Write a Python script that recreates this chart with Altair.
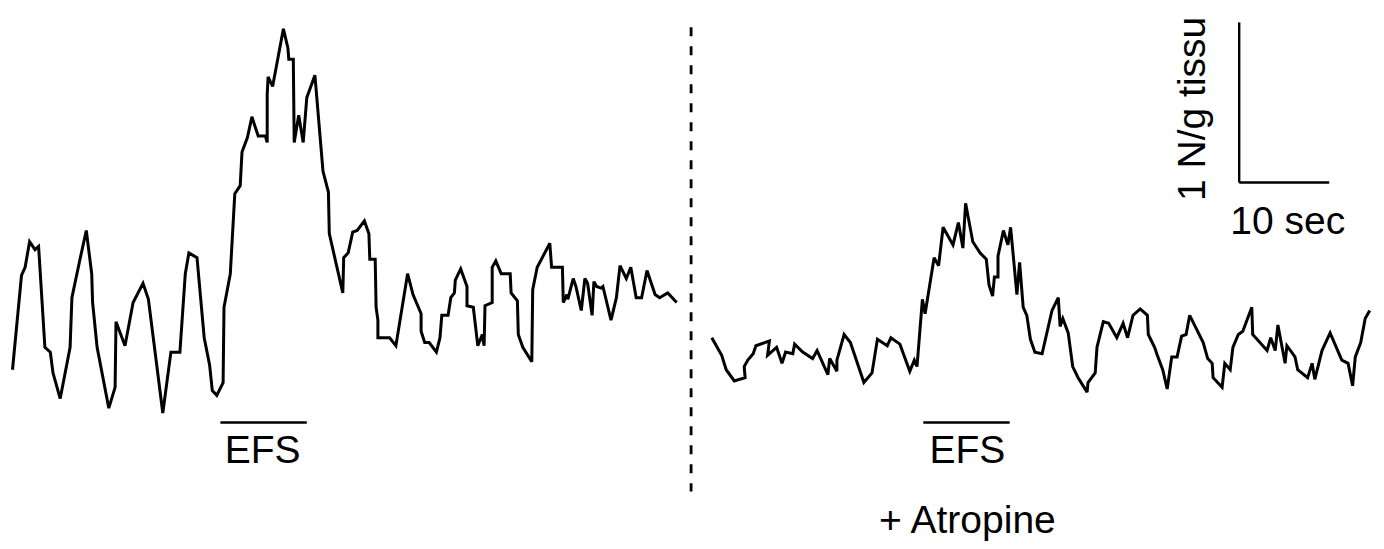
import altair as alt
import pandas as pd

# ---- Data (time in seconds, force in N/g) ----
ctrl_t = [0.5, 1.5, 1.9, 2.4, 3.0, 3.4, 4.1, 4.7, 5.0, 5.8, 6.9, 7.1, 8.0, 8.7, 9.3, 9.4, 9.9,
          11.2, 11.9, 12.0, 13.0, 13.9, 15.0, 15.6, 17.2, 18.1, 19.1, 19.7, 20.1, 21.0, 21.8,
          22.4, 22.7, 23.2, 23.9, 24.0, 24.7, 25.2, 25.8, 26.0, 26.6, 27.1, 27.8, 28.6, 28.8,
          28.8, 28.9, 29.4, 30.6, 31.1, 31.2, 31.7, 31.8, 32.3, 32.8, 33.2, 34.1, 35.0, 35.6,
          35.7, 37.2, 37.3, 37.8, 38.3, 38.8, 39.6, 40.1, 40.2, 40.8, 40.9, 41.1, 41.1, 42.4,
          43.1, 44.4, 45.0, 45.9, 45.9, 46.3, 46.8, 47.6, 48.0, 48.2, 48.9, 49.2, 49.6, 49.7,
          50.3, 51.0, 51.0, 51.7, 52.2, 52.7, 52.9, 53.0, 53.8, 53.8, 54.2, 54.8, 55.8, 55.9,
          56.6, 56.7, 57.2, 58.2, 58.3, 58.8, 60.2, 60.4, 61.6, 61.7, 62.1, 62.2, 62.8, 63.1,
          63.7, 64.1, 64.4, 64.9, 65.1, 65.4, 65.9, 66.1, 67.0, 67.6, 68.0, 68.7, 69.2, 69.8,
          70.4, 71.0, 71.9, 72.4, 73.3, 74.3]
ctrl_v = [1.04, 1.63, 1.68, 1.84, 1.79, 1.81, 1.18, 1.15, 1.02, 0.86, 1.18, 1.49, 1.73, 1.91,
          1.64, 1.46, 1.18, 0.80, 0.93, 1.34, 1.19, 1.46, 1.58, 1.48, 0.77, 1.15, 1.15, 1.64,
          1.77, 1.74, 1.24, 1.07, 0.91, 0.88, 0.96, 1.43, 1.64, 2.14, 2.19, 2.40, 2.49, 2.62,
          2.50, 2.50, 2.46, 2.76, 2.87, 2.81, 3.17, 3.05, 2.98, 2.98, 2.46, 2.63, 2.46, 2.74,
          2.88, 2.28, 2.15, 1.89, 1.52, 1.74, 1.77, 1.90, 1.91, 1.97, 1.89, 1.73, 1.73, 1.43,
          1.35, 1.24, 1.24, 1.19, 1.64, 1.51, 1.39, 1.28, 1.21, 1.21, 1.15, 1.24, 1.38, 1.38,
          1.49, 1.52, 1.60, 1.67, 1.56, 1.44, 1.43, 1.19, 1.26, 1.19, 1.44, 1.46, 1.68, 1.72,
          1.64, 1.64, 1.52, 1.47, 1.26, 1.18, 1.09, 1.54, 1.68, 1.83, 1.68, 1.68, 1.46, 1.51,
          1.48, 1.61, 1.56, 1.41, 1.61, 1.58, 1.38, 1.59, 1.56, 1.55, 1.56, 1.35, 1.49, 1.69,
          1.61, 1.68, 1.49, 1.49, 1.66, 1.51, 1.49, 1.52, 1.46]

atro_t = [78.2, 79.3, 79.8, 80.7, 81.9, 81.8, 82.2, 82.8, 83.1, 84.6, 84.4, 85.4, 86.0, 86.4,
          87.2, 87.4, 88.3, 89.4, 89.9, 91.1, 91.3, 92.1, 92.1, 92.9, 93.6, 95.1, 96.0, 96.6,
          97.7, 98.1, 99.1, 100.2, 100.7, 101.0, 101.6, 101.9, 102.9, 103.4, 103.9, 105.0,
          105.6, 106.1, 106.4, 107.2, 108.0, 108.7, 109.0, 109.4, 109.6, 110.0, 110.0, 110.6,
          111.1, 111.4, 112.1, 112.4, 112.8, 113.2, 113.6, 114.1, 114.9, 116.0, 116.7, 116.9,
          117.2, 117.8, 118.3, 118.9, 119.9, 120.0, 120.8, 121.0, 121.7, 122.3, 123.2, 123.9,
          124.4, 125.0, 125.8, 126.6, 126.7, 127.4, 127.7, 128.3, 128.8, 129.3, 129.9, 130.4,
          130.9, 131.3, 132.8, 133.3, 133.8, 133.9, 134.9, 135.2, 135.8, 136.1, 136.7, 137.2,
          138.2, 138.3, 139.9, 140.3, 140.8, 141.1, 141.9, 142.1, 143.0, 143.3, 144.4, 144.9,
          145.2, 146.0, 146.9, 148.2, 148.9, 149.4, 149.7, 150.3, 150.8, 151.3]
atro_v = [1.24, 1.13, 1.04, 0.97, 0.99, 1.06, 1.10, 1.14, 1.19, 1.22, 1.13, 1.18, 1.08, 1.15,
          1.14, 1.20, 1.15, 1.11, 1.16, 1.01, 1.11, 1.03, 1.10, 1.26, 1.21, 0.96, 1.02, 1.23,
          1.19, 1.24, 1.20, 1.03, 1.10, 1.06, 1.48, 1.39, 1.74, 1.69, 1.93, 1.82, 1.96, 1.80,
          2.08, 1.84, 1.77, 1.73, 1.57, 1.50, 1.62, 1.62, 1.75, 1.91, 1.82, 1.93, 1.51, 1.71,
          1.43, 1.38, 1.23, 1.15, 1.14, 1.41, 1.49, 1.31, 1.36, 1.27, 1.06, 0.99, 0.90, 0.96,
          1.02, 1.18, 1.34, 1.33, 1.24, 1.33, 1.24, 1.38, 1.42, 1.38, 1.26, 1.18, 1.13, 1.04,
          0.92, 1.12, 1.12, 1.25, 1.26, 1.38, 1.21, 1.11, 1.08, 0.99, 0.93, 1.08, 1.04, 1.18,
          1.26, 1.28, 1.43, 1.26, 1.16, 1.24, 1.16, 1.32, 1.08, 1.19, 1.12, 1.04, 0.99, 1.08,
          0.98, 1.16, 1.27, 1.10, 1.08, 0.94, 1.12, 1.21, 1.36, 1.41]

# stimulation periods (start, end) in seconds and their bar level in N/g
efs_start = [23.6, 101.7]
efs_end = [33.2, 111.3]
efs_level = [0.71, 0.71]
efs_label_t = [28.3, 106.6]
efs_label_v = [0.46, 0.46]

# divider between conditions
divider_t = [75.9]
divider_v0 = [0.28]
divider_v1 = [3.18]

# scale bar: 10 s horizontal, 1 N/g vertical
scale_t0 = [136.8]
scale_t1 = [146.8]
scale_v0 = [2.21]
scale_v1 = [3.21]

labels = ["10 sec", "+ Atropine"]
labels_t = [142.2, 106.6]
labels_v = [1.89, 0.02]

ylabel = ["1 N/g tissu"]
ylabel_t = [133.0]
ylabel_v = [2.67]

# ---- tables ----
rows = []
for i, (t, v) in enumerate(zip(ctrl_t, ctrl_v)):
    rows.append({"t": t, "v": v, "trace": "control", "i": i})
for i, (t, v) in enumerate(zip(atro_t, atro_v)):
    rows.append({"t": t, "v": v, "trace": "atropine", "i": i})
trace_df = pd.DataFrame(rows)

efs_df = pd.DataFrame({"t0": efs_start, "t1": efs_end, "v": efs_level,
                       "lt": efs_label_t, "lv": efs_label_v, "txt": ["EFS", "EFS"]})
div_df = pd.DataFrame({"t": divider_t, "v0": divider_v0, "v1": divider_v1})
sv_df = pd.DataFrame({"t": scale_t0, "v0": scale_v0, "v1": scale_v1})
sh_df = pd.DataFrame({"t0": scale_t0, "t1": scale_t1, "v": scale_v0})
lab_df = pd.DataFrame({"t": labels_t, "v": labels_v, "txt": labels})
ylab_df = pd.DataFrame({"t": ylabel_t, "v": ylabel_v, "txt": ylabel})

xs = alt.Scale(domain=[0, 152], nice=False, zero=False)
ys = alt.Scale(domain=[-0.03, 3.3], nice=False, zero=False)
X = lambda f: alt.X(f, type="quantitative", scale=xs, axis=None)
Y = lambda f: alt.Y(f, type="quantitative", scale=ys, axis=None)

FONT = "Liberation Sans"
FS = 39

lines = alt.Chart(trace_df).mark_line(color="black", strokeWidth=3, strokeJoin="miter",
                                      strokeMiterLimit=3).encode(
    x=X("t"), y=Y("v"), detail="trace:N", order="i:Q")

efs_bar = alt.Chart(efs_df).mark_rule(color="black", strokeWidth=2.4).encode(
    x=X("t0"), x2="t1", y=Y("v"))
efs_txt = alt.Chart(efs_df).mark_text(font=FONT, fontSize=FS, align="center",
                                      baseline="alphabetic", color="black").encode(
    x=X("lt"), y=Y("lv"), text="txt:N")

divider = alt.Chart(div_df).mark_rule(color="black", strokeWidth=2.8,
                                      strokeDash=[9, 10]).encode(
    x=X("t"), y=Y("v1"), y2="v0")

sbar_v = alt.Chart(sv_df).mark_rule(color="black", strokeWidth=2.4).encode(
    x=X("t"), y=Y("v0"), y2="v1")
sbar_h = alt.Chart(sh_df).mark_rule(color="black", strokeWidth=2.4).encode(
    x=X("t0"), x2="t1", y=Y("v"))

lab = alt.Chart(lab_df).mark_text(font=FONT, fontSize=FS, align="center",
                                  baseline="alphabetic", color="black").encode(
    x=X("t"), y=Y("v"), text="txt:N")
ylab = alt.Chart(ylab_df).mark_text(font=FONT, fontSize=FS, align="center",
                                    baseline="alphabetic", angle=270, color="black").encode(
    x=X("t"), y=Y("v"), text="txt:N")

chart = alt.layer(lines, efs_bar, efs_txt, divider, sbar_v, sbar_h, lab, ylab).properties(
    width=1368, height=533, padding=0
).configure_view(stroke=None, strokeWidth=0)

chart.save("out.html", embed_options={"renderer": "svg", "actions": False})
